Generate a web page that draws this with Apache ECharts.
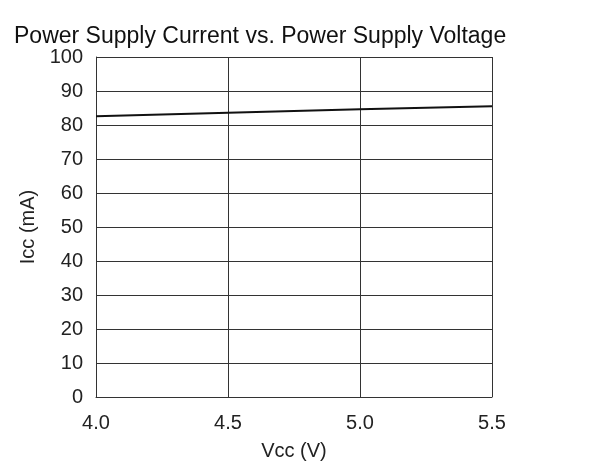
<!DOCTYPE html>
<html>
<head>
<meta charset="utf-8">
<script src="https://cdn.jsdelivr.net/npm/echarts@6/dist/echarts.min.js"></script>
<style>html,body{margin:0;padding:0;background:#fff}#c{width:600px;height:466px}</style>
</head>
<body>
<div id="c"></div>
<script>
var titleText = 'Power Supply Current vs. Power Supply Voltage';
var xName = 'Vcc (V)';
var yName = 'Icc (mA)';
var vcc = [4.0, 4.5, 5.0, 5.5];
var icc = [82.6, 83.6, 84.6, 85.5];

var font = 'Liberation Sans, Arial, sans-serif';
var chart = echarts.init(document.getElementById('c'), null, {renderer: 'canvas'});
chart.setOption({
  animation: false,
  backgroundColor: '#fff',
  title: {
    text: titleText, left: 9, top: 20,
    textStyle: {fontFamily: font, fontSize: 23, fontWeight: 'normal', color: '#111'}
  },
  grid: {left: 96, right: 108, top: 57, bottom: 69, containLabel: false, outerBoundsMode: 'none'},
  xAxis: {
    type: 'value', min: 4.0, max: 5.5, interval: 0.5,
    name: xName, nameLocation: 'middle', nameGap: 44,
    nameTextStyle: {fontFamily: font, fontSize: 20, color: '#222'},
    axisLine: {show: true, lineStyle: {color: '#333', width: 1}},
    axisTick: {show: false},
    axisLabel: {fontFamily: font, fontSize: 20, color: '#222', margin: 16,
      formatter: function (v) { return v.toFixed(1); }},
    splitLine: {show: true, lineStyle: {color: '#333', width: 1}}
  },
  yAxis: {
    type: 'value', min: 0, max: 100, interval: 10,
    name: yName, nameLocation: 'middle', nameGap: 58,
    nameTextStyle: {fontFamily: font, fontSize: 20, color: '#222'},
    axisLine: {show: true, lineStyle: {color: '#333', width: 1}},
    axisTick: {show: false},
    axisLabel: {fontFamily: font, fontSize: 20, color: '#222', margin: 13},
    splitLine: {show: true, lineStyle: {color: '#333', width: 1}}
  },
  series: [{
    type: 'line',
    data: vcc.map(function (x, i) { return [x, icc[i]]; }),
    showSymbol: false,
    lineStyle: {color: '#111', width: 2}
  }]
});
</script>
</body>
</html>
